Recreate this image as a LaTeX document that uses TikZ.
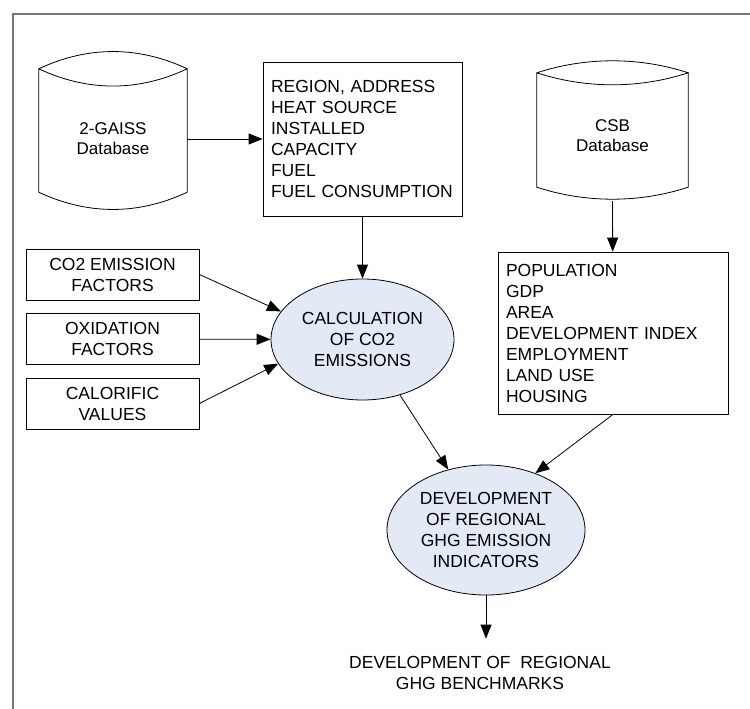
\documentclass[tikz,border=0pt]{standalone}
\usepackage{fontspec}
\setmainfont{Liberation Sans}
\usetikzlibrary{arrows.meta,shapes.geometric}

\definecolor{ovalblue}{RGB}{227,234,246}
\definecolor{framegray}{RGB}{120,120,120}

\begin{document}
\begin{tikzpicture}[x=10pt,y=-10pt,font=\fontsize{17.5}{21}\selectfont]
\useasboundingbox (0,0) rectangle (75,70.9);
\draw[draw=framegray,line width=1.5pt] (1.3,70.9) -- (1.3,1.4) -- (75,1.4);

\begin{scope}[every node/.style={align=center,font=\fontsize{17}{20}\selectfont}]
    \node[minimum width=148pt,minimum height=106pt] (gaiss_db) at (11.3,13.9) {2-GAISS\\Database};
    \node[minimum width=151pt,minimum height=102pt] (csb_db) at (61.25,13.6) {CSB\\Database};
\end{scope}

\foreach \db/\sag/\ctl in {gaiss_db/17/23,csb_db/12/16} {
    \draw[line width=0.8pt] ([yshift=\sag pt]\db.north west) coordinate (tl)
        .. controls +(49pt,\ctl pt) and +(-49pt,\ctl pt) .. ([yshift=\sag pt]\db.north east) coordinate (tr)
        .. controls +(-49pt,-\ctl pt) and +(49pt,-\ctl pt) .. (tl)
        -- (\db.south west)
        .. controls +(49pt,-\ctl pt) and +(-49pt,-\ctl pt) .. (\db.south east)
        -- (tr);
}

\begin{scope}[every node/.style={draw,line width=0.8pt,align=left,inner xsep=8pt}]
    \node[minimum width=199pt,minimum height=154pt,text width=183pt] (plant_data) at (36.25,13.9)
        {REGION, ADDRESS\\HEAT SOURCE\\INSTALLED\\CAPACITY\\FUEL\\FUEL CONSUMPTION};
    \node[minimum width=230pt,minimum height=162pt,text width=214pt] (region_data) at (61.3,33.3)
        {POPULATION\\GDP\\AREA\\DEVELOPMENT INDEX\\EMPLOYMENT\\LAND USE\\HOUSING};
\end{scope}

\begin{scope}[every node/.style={draw,line width=0.8pt,align=center,inner sep=0pt,minimum width=173pt,minimum height=51pt}]
    \node (co2_factors) at (11.25,27.45) {CO2 EMISSION\\FACTORS};
    \node (oxidation_factors) at (11.25,33.9) {OXIDATION\\FACTORS};
    \node (calorific_values) at (11.25,40.35) {CALORIFIC\\VALUES};
\end{scope}

\begin{scope}[every node/.style={ellipse,draw,line width=0.8pt,fill=ovalblue,align=center,inner sep=0pt}]
    \node[minimum width=183pt,minimum height=121pt] (co2_calc) at (36.25,33.95) {CALCULATION\\OF CO2\\EMISSIONS};
    \node[minimum width=198pt,minimum height=130pt] (ghg_indicators) at (48.6,53.0) {DEVELOPMENT\\OF REGIONAL\\GHG EMISSION\\INDICATORS};
\end{scope}

\node[align=center,inner ysep=17pt] (ghg_benchmarks) at (48.0,67.25) {DEVELOPMENT OF\ \ REGIONAL\\GHG BENCHMARKS};

\begin{scope}[>={Triangle[length=14pt,width=11pt]},
              every edge/.style={draw,line width=0.8pt}]
    \path [->] (gaiss_db) edge (plant_data)
               (plant_data) edge (co2_calc)
               ([yshift=-14pt]csb_db.south) edge (region_data)
               (co2_factors.east) edge (co2_calc.161)
               (oxidation_factors) edge (co2_calc)
               (calorific_values.east) edge (co2_calc.196)
               (co2_calc.304) edge (ghg_indicators.122)
               (region_data.south) edge (ghg_indicators.49)
               (ghg_indicators) edge (ghg_indicators |- ghg_benchmarks.north);
\end{scope}
\end{tikzpicture}
\end{document}
